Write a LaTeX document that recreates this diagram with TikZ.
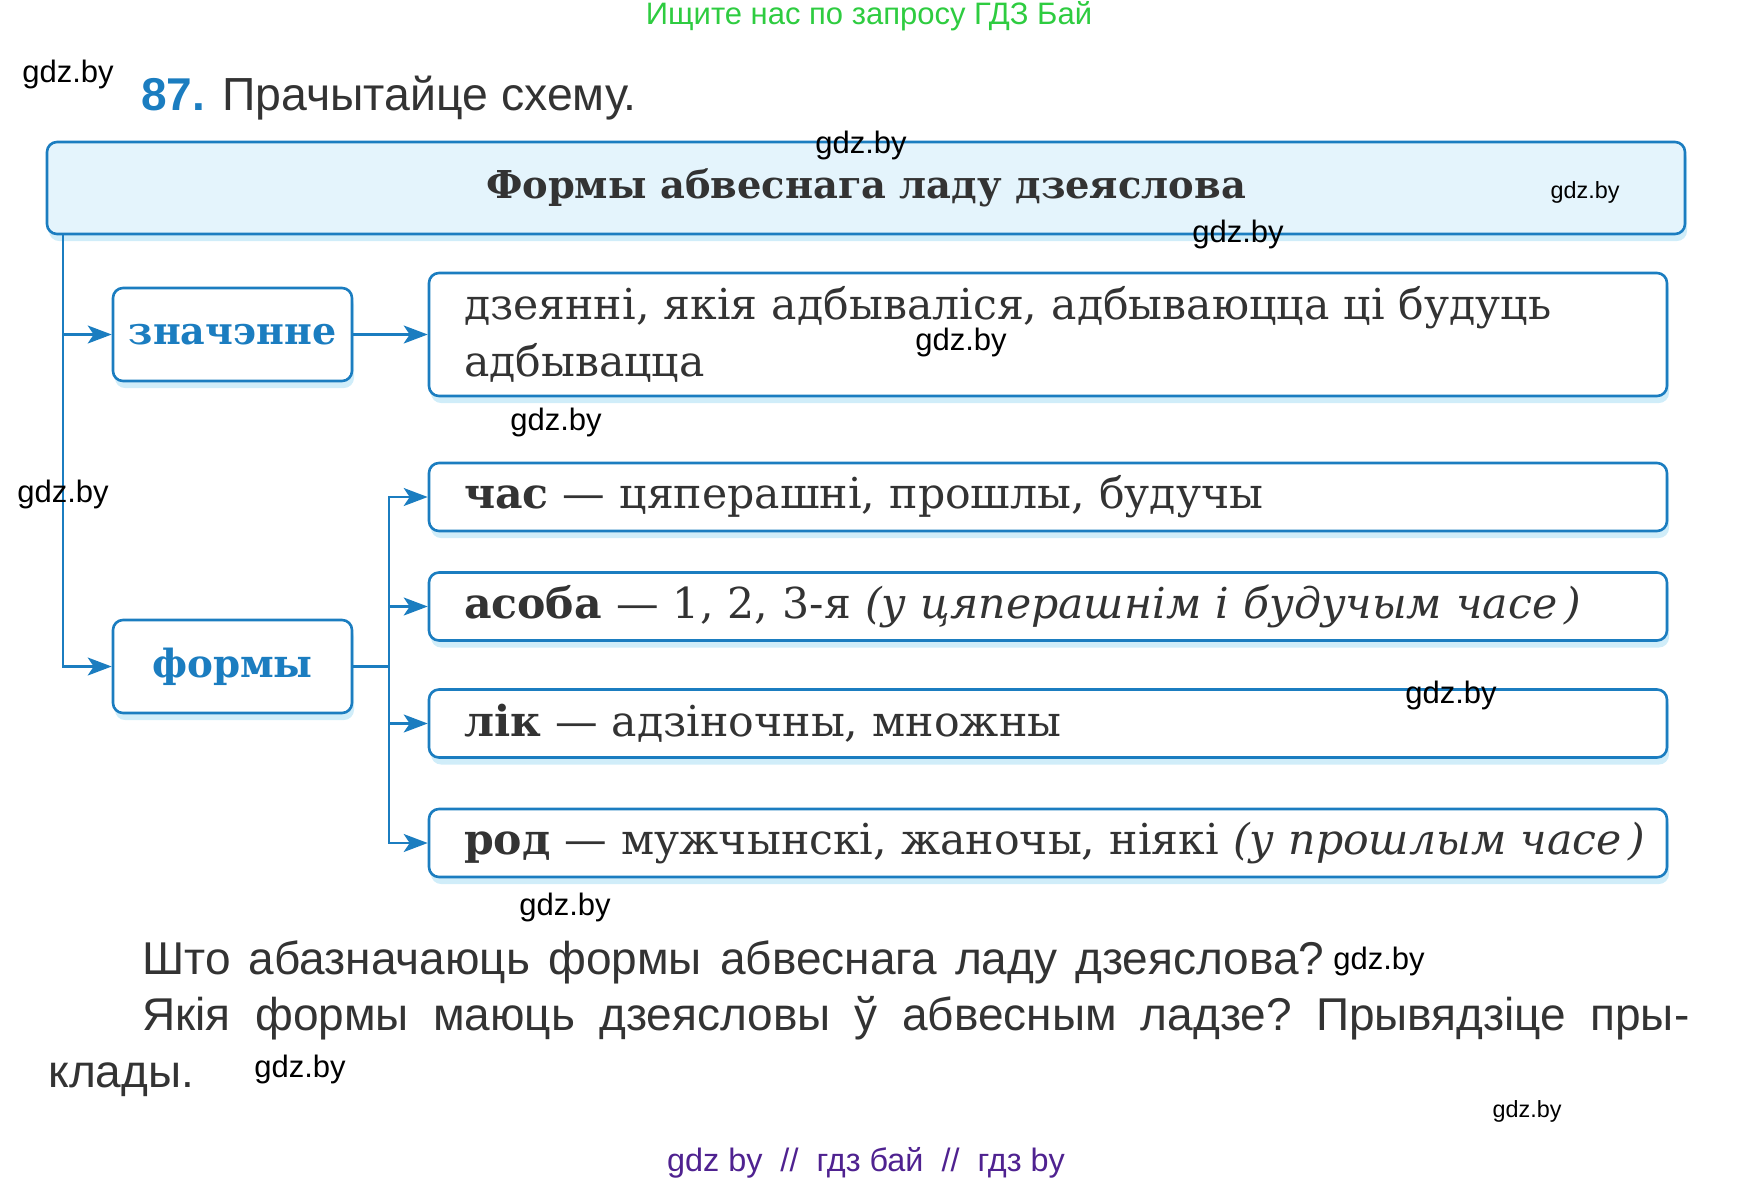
\documentclass[tikz,border=0pt]{standalone}
\usepackage{fontspec}
\setmainfont{DejaVu Serif}
\setsansfont{Liberation Sans}
\usetikzlibrary{arrows.meta,shadows}
\frenchspacing

\definecolor{schemeblue}{HTML}{1B7DC0}
\definecolor{titlefill}{HTML}{E4F4FC}
\definecolor{glowblue}{HTML}{C4E8F8}
\definecolor{inkgray}{HTML}{333333}
\definecolor{wmgreen}{HTML}{2ECC40}
\definecolor{wmpurple}{HTML}{4F2290}

\tikzset{
  frame/.style={draw=schemeblue, line width=1.3pt, rounded corners=5pt, fill=white, inner sep=0pt,
    drop shadow={shadow xshift=1pt, shadow yshift=-3.5pt, fill=glowblue, opacity=.8}},
  headbox/.style={frame, fill=titlefill, minimum width=819pt, minimum height=46pt,
    text=inkgray, font=\fontsize{19.2}{24}\selectfont\bfseries},
  keybox/.style={frame, minimum width=119.5pt, minimum height=46.5pt,
    text=schemeblue, font=\fontsize{19}{24}\selectfont\bfseries},
  infobox/.style={frame, minimum width=619pt, text width=584pt, inner xsep=17.5pt,
    minimum height=34pt, align=left, text=inkgray, font=\fontsize{21.3}{28.5}\selectfont},
  arr/.style={draw=schemeblue, line width=1.1pt, -{Stealth[length=12pt,width=9pt,inset=3pt]}},
  link/.style={draw=schemeblue, line width=1.1pt},
  wm/.style={inner sep=0pt, text=black, font=\sffamily\fontsize{15.5}{18}\selectfont},
  wmsmall/.style={wm, font=\sffamily\fontsize{11.7}{14}\selectfont},
  question/.style={anchor=base west, inner sep=0pt, text=inkgray, font=\sffamily\fontsize{23}{28}\selectfont}
}

\begin{document}
\begin{tikzpicture}[x=0.5pt,y=-0.5pt]

\useasboundingbox (0,0) rectangle (1737,1180);

% heading
\node[anchor=base west, inner sep=0pt, text=schemeblue, font=\sffamily\bfseries\fontsize{23}{28}\selectfont] (num) at (141,110) {87.};
\node[anchor=base west, inner sep=0pt, text=inkgray, font=\sffamily\fontsize{23.2}{28}\selectfont] (task) at (222,110) {Прачытайце схему.};

% scheme
\node[headbox] (title) at (866,188) {Формы абвеснага ладу дзеяслова};

\node[keybox] (znach) at (232.5,334.5) {значэнне};
\node[keybox, font=\fontsize{19.4}{24}\selectfont\bfseries] (formy) at (232.5,666.5) {формы};

\node[infobox, minimum height=61.5pt] (meaning) at (1048,334.5)
  {дзеянні, якія адбываліся, адбываюцца ці будуць\\адбывацца};
\node[infobox] (chas) at (1048,497) {\textbf{час} — цяперашні, прошлы, будучы};
\node[infobox] (asoba) at (1048,606.5) {\textbf{асоба} — 1, 2, 3-я \textit{(у цяперашнім і будучым часе\,)}};
\node[infobox] (lik) at (1048,723.5) {\textbf{лік} — адзіночны, множны};
\node[infobox] (rod) at (1048,843) {\mbox{\textbf{род} — мужчынскі, жаночы, ніякі \textit{(у прошлым часе\,)}}};

% connectors
\draw[arr] ([xshift=8.5pt]title.south west) |- (znach.west);
\draw[arr] ([xshift=8.5pt]title.south west) |- (formy.west);
\draw[arr] (znach) -- (meaning);

\coordinate (fork) at ([xshift=18pt]formy.east);
\draw[link] (formy.east) -- (fork);
\foreach \n in {chas,asoba,lik,rod}
  \draw[arr] (fork) |- (\n.west);

% questions
\node[question] (q1) at (142,974) {\makebox[591pt][s]{Што абазначаюць формы абвеснага ладу дзеяслова?}};
\node[question] (q2) at (142,1030) {\makebox[773.5pt][s]{Якія формы маюць дзеясловы ў абвесным ладзе? Прывядзіце пры-}};
\node[question] (q3) at (48,1087) {клады.};

% watermarks
\node[wm, text=wmgreen] (wmtop) at (869,16) {Ищите нас по запросу ГДЗ Бай};
\node[wm, text=wmpurple, font=\sffamily\fontsize{16.2}{18}\selectfont] (wmbottom) at (866,1163) {gdz by \ // \ гдз бай \ // \ гдз by};
\node[wm] (wm1) at (68,74) {gdz.by};
\node[wm] (wm2) at (861,145) {gdz.by};
\node[wmsmall] (wm3) at (1585,192) {gdz.by};
\node[wm] (wm4) at (1238,234) {gdz.by};
\node[wm] (wm5) at (961,342) {gdz.by};
\node[wm] (wm6) at (556,422) {gdz.by};
\node[wm] (wm7) at (63,494) {gdz.by};
\node[wm] (wm8) at (1451,695) {gdz.by};
\node[wm] (wm9) at (565,907) {gdz.by};
\node[wm] (wm10) at (1379,961) {gdz.by};
\node[wm] (wm11) at (300,1069) {gdz.by};
\node[wmsmall] (wm12) at (1527,1111) {gdz.by};

\end{tikzpicture}
\end{document}
